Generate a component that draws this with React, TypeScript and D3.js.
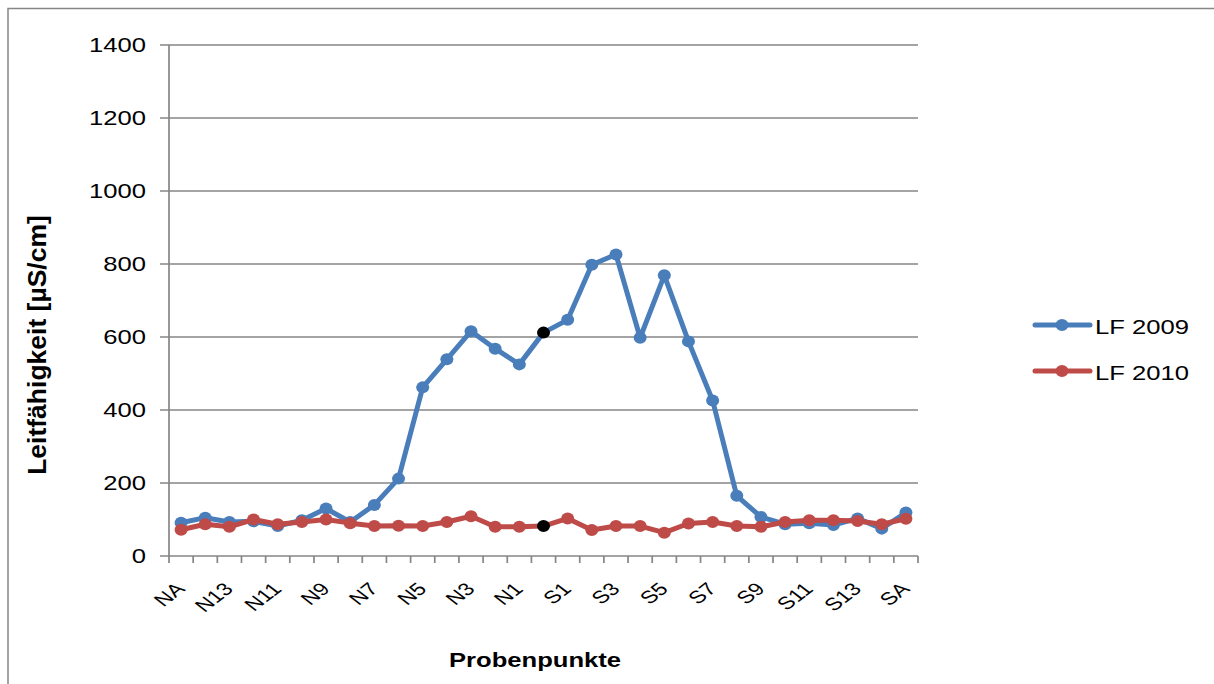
import * as React from 'react';
import {scaleBand, scaleLinear} from 'd3';

// Probenpunkte von Nord nach Süd, der mittlere Punkt ist schwarz markiert
const categories = [
    'NA', 'N14', 'N13', 'N12', 'N11', 'N10', 'N9', 'N8', 'N7', 'N6', 'N5', 'N4', 'N3', 'N2', 'N1',
    '0',
    'S1', 'S2', 'S3', 'S4', 'S5', 'S6', 'S7', 'S8', 'S9', 'S10', 'S11', 'S12', 'S13', 'S14', 'SA'
];
const tickLabels = ['NA', 'N13', 'N11', 'N9', 'N7', 'N5', 'N3', 'N1', 'S1', 'S3', 'S5', 'S7', 'S9', 'S11', 'S13', 'SA'];
const highlight = '0';

const lf2009 = [91, 105, 93, 95, 82, 98, 130, 93, 140, 212, 462, 539, 616, 568, 525, 612,
    647, 798, 826, 598, 769, 588, 426, 165, 107, 87, 90, 85, 103, 75, 119];
const lf2010 = [72, 87, 80, 100, 87, 93, 100, 90, 82, 83, 82, 93, 109, 80, 80, 82,
    103, 71, 82, 82, 64, 89, 93, 82, 80, 93, 98, 98, 96, 87, 102];
const yTicks = [0, 200, 400, 600, 800, 1000, 1200, 1400];

const series = [
    {name: 'LF 2009', values: lf2009, color: '#4A7EBB'},
    {name: 'LF 2010', values: lf2010, color: '#BE4B48'},
];

const W = 1214;
const H = 684;
const margin = {left: 169, right: 296, top: 45, bottom: 128};
const plotW = W - margin.left - margin.right;
const plotH = H - margin.top - margin.bottom;

const xScale = scaleBand<string>().domain(categories).range([0, plotW]);
const yScale = scaleLinear().domain([0, 1400]).range([plotH, 0]);

const grid = '#868686';
const font = '"Liberation Sans", Arial, sans-serif';

const cx = (c: string) => xScale(c)! + xScale.bandwidth() / 2;

function Label(props: {x: number, y: number, rot?: number, sx?: number, anchor?: string, bold?: boolean, size?: number, children: any}) {
    // texts in the picture are wider than they are tall
    const {x, y, rot = 0, sx = 1.3, anchor = 'start', bold = false, size = 19.7} = props;
    return (
        <text
            transform={`translate(${x},${y}) scale(${sx},1) rotate(${rot})`}
            textAnchor={anchor}
            fontFamily={font}
            fontWeight={bold ? 'bold' : 'normal'}
            fontSize={size}
            fill='#000'
        >{props.children}</text>
    );
}

export default function App() {
    const bounds = categories.map(c => xScale(c)!).concat([plotW]);
    return (
        <svg width={W} height={H} style={{position: 'absolute', left: 0, top: 0, background: '#fff'}}>
            <rect x={8} y={8.5} width={W + 10} height={H + 10} fill='#fff' stroke={grid} strokeWidth={1.5}/>
            <g transform={`translate(${margin.left},${margin.top})`}>
                {yTicks.map(t =>
                    <g key={t}>
                        <line x1={-9} x2={plotW} y1={yScale(t)} y2={yScale(t)} stroke={grid} strokeWidth={1.7}/>
                        <Label x={-23} y={yScale(t) + 7} anchor='end'>{t}</Label>
                    </g>
                )}
                <line x1={0} x2={0} y1={0} y2={plotH} stroke={grid} strokeWidth={1.7}/>
                {bounds.map((b, i) =>
                    <line key={i} x1={b} x2={b} y1={plotH} y2={plotH + 7} stroke={grid} strokeWidth={1.7}/>
                )}
                {tickLabels.map(t =>
                    <Label key={t} x={cx(t) + 5} y={plotH + 34} rot={-45} size={17.7} anchor='end'>{t}</Label>
                )}
                {series.map(s => {
                    const d = s.values.map((v, i) => `${i ? 'L' : 'M'}${cx(categories[i])},${yScale(v)}`).join('');
                    return (
                        <g key={s.name}>
                            <path d={d} fill='none' stroke={s.color} strokeWidth={5} strokeLinejoin='round'/>
                            {s.values.map((v, i) =>
                                <ellipse key={i} cx={cx(categories[i])} cy={yScale(v)} rx={6.5} ry={6}
                                         fill={categories[i] === highlight ? '#000' : s.color}/>
                            )}
                        </g>
                    );
                })}
            </g>
            <Label x={535} y={667} anchor='middle' bold>Probenpunkte</Label>
            <Label x={46} y={345} rot={-90} sx={1} size={26.5} anchor='middle' bold>Leitfähigkeit [µS/cm]</Label>
            {series.map((s, i) =>
                <g key={s.name} transform={`translate(0,${325 + i * 46})`}>
                    <line x1={1035} x2={1090} y1={0} y2={0} stroke={s.color} strokeWidth={5} strokeLinecap='round'/>
                    <ellipse cx={1062} cy={0} rx={6.5} ry={6} fill={s.color}/>
                    <Label x={1095} y={9}>{s.name}</Label>
                </g>
            )}
        </svg>
    );
}
